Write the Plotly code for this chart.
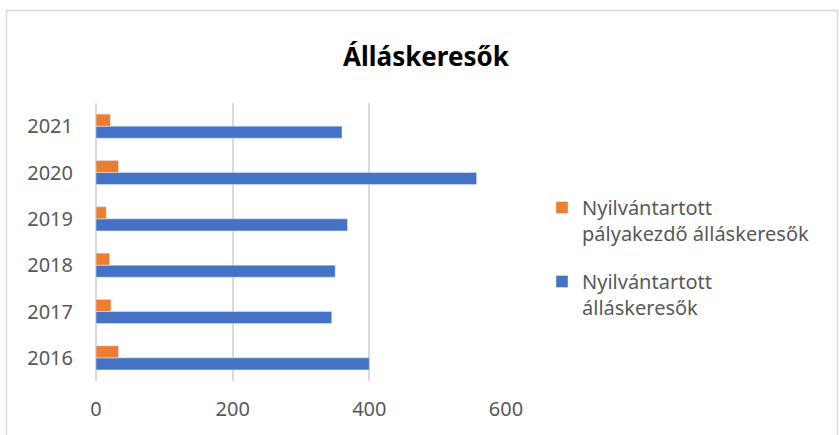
import plotly.graph_objects as go

years = ["2016", "2017", "2018", "2019", "2020", "2021"]
palyakezdo = [33, 22, 20, 15, 33, 21]
osszes = [400, 345, 350, 368, 557, 360]

x_ticks = [0, 200, 400, 600]

fig = go.Figure()

# Excel-szerű sorrend: a kék sáv alul, a narancs felette
fig.add_trace(
    go.Bar(
        y=years,
        x=osszes,
        orientation="h",
        name="Nyilvántartott<br>álláskeresők",
        legendgroup="osszes",
        legendrank=2,
        marker=dict(color="#4472C4"),
    )
)
fig.add_trace(
    go.Bar(
        y=years,
        x=palyakezdo,
        orientation="h",
        name="Nyilvántartott<br>pályakezdő álláskeresők",
        legendgroup="palyakezdo",
        legendrank=1,
        marker=dict(color="#ED7D31"),
    )
)

pl, pr, pt, pb = 96, 506, 103, 381
pw, ph = pr - pl, pb - pt

fig.update_layout(
    width=839,
    height=435,
    barmode="group",
    bargap=0.48,
    bargroupgap=0,
    plot_bgcolor="white",
    paper_bgcolor="white",
    margin=dict(l=pl, r=839 - pr, t=pt, b=435 - pb, pad=0, autoexpand=False),
    font=dict(family="Noto Sans", size=20, color="#595959"),
    title=dict(
        text="<b>Álláskeresők</b>",
        xref="container",
        yref="container",
        x=426 / 839,
        xanchor="center",
        y=1 - 57 / 435,
        yanchor="middle",
        font=dict(family="Noto Sans", size=26, color="#000000"),
    ),
    legend=dict(
        x=(542 - pl) / pw,
        y=(pb - 188) / ph,
        xanchor="left",
        yanchor="top",
        traceorder="grouped",
        valign="top",
        tracegroupgap=19,
        font=dict(size=20, color="#595959"),
        bgcolor="rgba(0,0,0,0)",
    ),
    showlegend=True,
    shapes=[
        dict(
            type="rect",
            xref="paper",
            yref="paper",
            x0=(6.5 - pl) / pw,
            x1=(837.5 - pl) / pw,
            y0=(pb - 450) / ph,
            y1=(pb - 10.5) / ph,
            line=dict(color="#d9d9d9", width=1.5),
            fillcolor="rgba(0,0,0,0)",
            layer="below",
        )
    ],
)

fig.update_xaxes(
    range=[0, 600],
    tickvals=x_ticks,
    automargin=False,
    showgrid=True,
    gridcolor="#d9d9d9",
    gridwidth=1.5,
    zeroline=True,
    zerolinecolor="#d9d9d9",
    zerolinewidth=1.5,
    showline=False,
    ticks="",
    ticklabelstandoff=14,
    tickfont=dict(size=20, color="#595959"),
)
fig.update_yaxes(
    type="category",
    automargin=False,
    showgrid=False,
    zeroline=False,
    showline=False,
    ticks="",
    ticklabelstandoff=22,
    tickfont=dict(size=20, color="#595959"),
)

# a böngésző alapértelmezett 8px-es body margóját nullázzuk
fig.write_html(
    "out.html",
    config={"displayModeBar": False},
    post_script="document.body.style.margin='0';",
)
